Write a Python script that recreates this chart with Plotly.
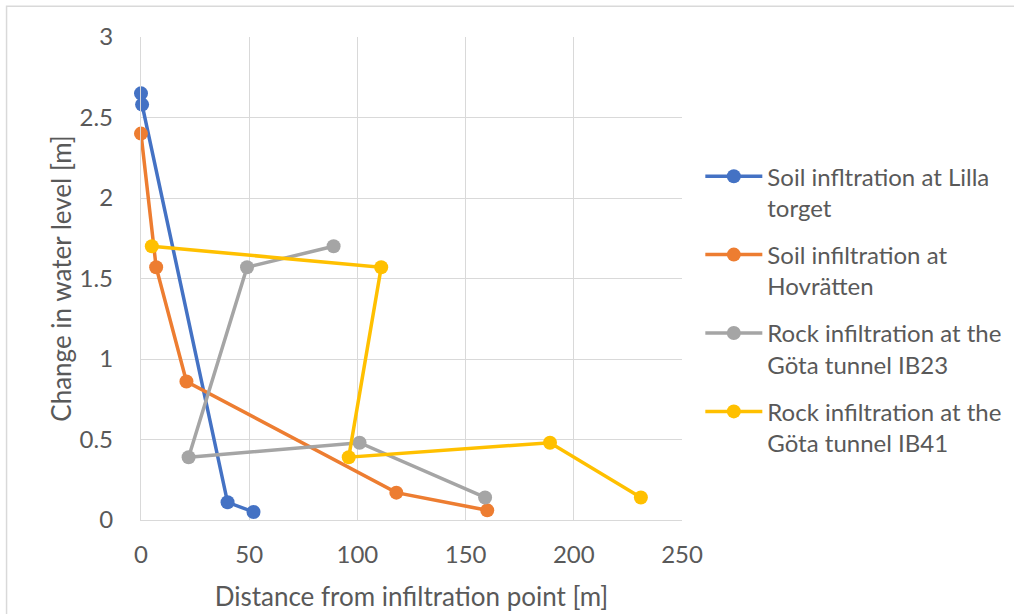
import plotly.graph_objects as go

# ---- data ----
names = [
    "Soil infltration at Lilla<br>torget",
    "Soil infiltration at<br>Hovrätten",
    "Rock infiltration at the<br>Göta tunnel IB23",
    "Rock infiltration at the<br>Göta tunnel IB41",
]
lilla_x = [0, 0.5, 40, 52]
lilla_y = [2.65, 2.58, 0.11, 0.05]
hov_x = [0, 7, 21, 118, 160]
hov_y = [2.40, 1.57, 0.86, 0.17, 0.06]
ib23_x = [89, 49, 22, 101, 159]
ib23_y = [1.70, 1.57, 0.39, 0.48, 0.14]
ib41_x = [5, 111, 96, 189, 231]
ib41_y = [1.70, 1.57, 0.39, 0.48, 0.14]
colors = ["#4472C4", "#ED7D31", "#A5A5A5", "#FFC000"]

x_ticks = [0, 50, 100, 150, 200, 250]
y_ticks = [0, 0.5, 1, 1.5, 2, 2.5, 3]

FONT = "Lato, 'Open Sans', sans-serif"
TXT = "#595959"
GRID = "#D9D9D9"

fig = go.Figure()
series = [(lilla_x, lilla_y), (hov_x, hov_y), (ib23_x, ib23_y), (ib41_x, ib41_y)]
for i, ((xs, ys), nm, c) in enumerate(zip(series, names, colors)):
    fig.add_trace(go.Scatter(
        x=xs, y=ys, name=nm, mode="lines+markers",
        line=dict(color=c, width=3.5),
        marker=dict(color=c, size=14),
        legendgroup=f"g{i}", cliponaxis=False,
    ))

W, H = 1014, 614
L, R, T, B = 141.3, 681.7, 36.7, 520.5

def px_x(p):
    return (p - L) / (R - L)

def px_y(p):
    return (B - p) / (B - T)

fig.update_layout(
    width=W, height=H,
    margin=dict(l=L, r=W - R, t=T, b=H - B, autoexpand=False),
    paper_bgcolor="white", plot_bgcolor="white",
    font=dict(family=FONT, color=TXT, size=24),
    xaxis=dict(
        range=[0, 250], tickvals=x_ticks, showgrid=True, gridcolor=GRID, gridwidth=1.3,
        zeroline=False, showline=True, linecolor=GRID, linewidth=1.3, mirror=False,
        ticks="", tickfont=dict(size=24, color=TXT), ticklabelstandoff=13,
        title=dict(text="Distance from infiltration point [m]", font=dict(size=26, color=TXT), standoff=20),
        fixedrange=True,
    ),
    yaxis=dict(
        range=[0, 3], tickvals=y_ticks, showgrid=True, gridcolor=GRID, gridwidth=1.3,
        zeroline=False, showline=True, linecolor=GRID, linewidth=1.3,
        ticks="", tickfont=dict(size=24, color=TXT), ticklabelstandoff=22,
        title=dict(text="Change in water level [m]", font=dict(size=26, color=TXT), standoff=0),
        fixedrange=True,
    ),
    legend=dict(
        x=px_x(700), y=px_y(154), xanchor="left", yanchor="top",
        font=dict(size=24, color=TXT), valign="top", tracegroupgap=13,
        bgcolor="rgba(0,0,0,0)", itemwidth=57,
    ),
    shapes=[dict(
        type="rect", xref="paper", yref="paper",
        x0=px_x(7), x1=px_x(1030), y0=px_y(630), y1=px_y(6),
        line=dict(color=GRID, width=1.5), fillcolor="rgba(0,0,0,0)", layer="below",
    )],
)

fig.write_html("out.html")
